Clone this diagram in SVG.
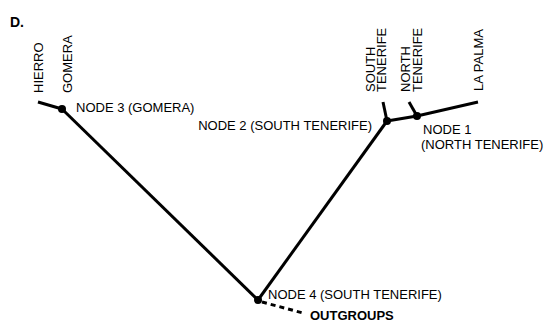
<svg xmlns="http://www.w3.org/2000/svg" width="551" height="334" viewBox="0 0 551 334">
<style>
text{font-family:"Liberation Sans",Arial,Helvetica,sans-serif;font-size:13px;fill:#000}
.b{font-weight:bold}
.br{stroke:#000;stroke-width:3;fill:none;stroke-linecap:butt}
.dash{stroke:#000;stroke-width:3;fill:none;stroke-dasharray:5,4}
.dot{fill:#000}
</style>
<rect width="551" height="334" fill="#fff"/>
<text class="b" x="10" y="27" style="font-size:14px">D.</text>
<g id="connectors">
<line class="br" x1="38" y1="102" x2="62" y2="109"/>
<line class="br" x1="62" y1="109" x2="258" y2="300"/>
<line class="br" x1="258" y1="300" x2="387" y2="121"/>
<line class="br" x1="383" y1="102" x2="387" y2="121"/>
<polyline class="br" points="387,121 417,116 478,102"/>
<line class="br" x1="409" y1="102" x2="417" y2="116"/>
<line class="dash" x1="262" y1="302" x2="303" y2="313"/>
</g>
<g id="hierro"><text transform="translate(43,93) rotate(-90)">HIERRO</text></g>
<g id="gomera"><text transform="translate(72,93) rotate(-90)">GOMERA</text></g>
<g id="south-tenerife"><text transform="translate(375,92) rotate(-90)">SOUTH</text><text transform="translate(386,92) rotate(-90)">TENERIFE</text></g>
<g id="north-tenerife"><text transform="translate(410,92) rotate(-90)">NORTH</text><text transform="translate(422,92) rotate(-90)">TENERIFE</text></g>
<g id="la-palma"><text transform="translate(483,91) rotate(-90)">LA PALMA</text></g>
<g id="node3"><circle class="dot" cx="62" cy="109" r="4"/><text x="76" y="112">NODE 3 (GOMERA)</text></g>
<g id="node2"><circle class="dot" cx="387" cy="121" r="4"/><text x="372" y="130" text-anchor="end">NODE 2 (SOUTH TENERIFE)</text></g>
<g id="node1"><circle class="dot" cx="417" cy="116" r="4"/><text x="423" y="134">NODE 1</text><text x="421" y="149">(NORTH TENERIFE)</text></g>
<g id="node4"><circle class="dot" cx="258" cy="300" r="4"/><text x="268" y="299">NODE 4 (SOUTH TENERIFE)</text></g>
<g id="outgroups"><text class="b" x="310" y="320">OUTGROUPS</text></g>
</svg>
